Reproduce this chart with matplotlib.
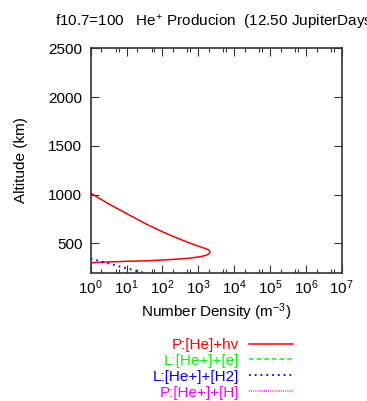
import matplotlib
matplotlib.use("Agg")
import matplotlib.pyplot as plt
from matplotlib.ticker import LogLocator, NullFormatter

plt.rcParams['font.family'] = ['Liberation Sans', 'DejaVu Sans']
plt.rcParams['mathtext.fontset'] = 'custom'
plt.rcParams['mathtext.rm'] = 'Liberation Sans'
plt.rcParams['mathtext.it'] = 'Liberation Sans'
plt.rcParams['mathtext.bf'] = 'Liberation Sans'

# ---- data ----
title = "f10.7=100   He$^{+}$ Producion  (12.50 JupiterDays)"
xlabel = "Number Density (m$^{-3}$)"
ylabel = "Altitude (km)"

# P:[He]+hv  (red)
prod_alt = [302, 310, 317, 323, 333, 347, 364, 380, 395, 408, 420, 432, 445, 460, 511, 593, 688, 798, 910, 1015]
prod_den = [1.0, 3.0, 11, 40, 145, 510, 1150, 1700, 2000, 2120, 2100, 1950, 1650, 1250, 510, 145, 40, 11, 3.0, 1.0]

# L:[He+]+[e]  (green) - not visible in range
loss_e_alt = []
loss_e_den = []

# L:[He+]+[H2]  (blue)
loss_h2_alt = [345, 320, 300, 280, 260, 240, 220, 200]
loss_h2_den = [1.0, 1.75, 2.8, 4.4, 7.0, 11.5, 18.5, 29]

# P:[He+]+[H]  (magenta) - not visible in range
prod_h_alt = []
prod_h_den = []

labels = ["P:[He]+hv", "L:[He+]+[e]", "L:[He+]+[H2]", "P:[He+]+[H]"]
xlim = (1, 1e7)
ylim = (200, 2500)
yticks = [500, 1000, 1500, 2000, 2500]

# ---- figure ----
fig = plt.figure(figsize=(3.67, 4.01), dpi=100)
ax = fig.add_axes([90.7/367, 1-272.7/401, (341.7-90.7)/367, (272.7-48.3)/401])

l1, = ax.plot(prod_den, prod_alt, color='#ff0000', lw=1.1, label=labels[0])
l2, = ax.plot(loss_e_den, loss_e_alt, color='#00ff00', lw=1.1, ls=(0, (3, 2)), label=labels[1])
l3, = ax.plot(loss_h2_den, loss_h2_alt, color='#0000ff', lw=1.3, ls=(0, (1, 2.2)), label=labels[2])
l4, = ax.plot(prod_h_den, prod_h_alt, color='#ff00ff', lw=1.1, ls=(0, (0.6, 0.8)), label=labels[3])

ax.set_xscale('log')
ax.set_xlim(*xlim)
ax.set_ylim(*ylim)
ax.set_yticks(yticks)
ax.xaxis.set_major_locator(LogLocator(base=10, numticks=20))
ax.xaxis.set_minor_locator(LogLocator(base=10, subs=[2, 5, 6], numticks=20))
ax.xaxis.set_minor_formatter(NullFormatter())

ax.tick_params(which='both', direction='in', top=True, right=True, labelsize=11, width=0.8, color='#333333')
ax.tick_params(which='major', length=6)
ax.tick_params(which='minor', length=3)
ax.tick_params(axis='y', pad=6)
ax.tick_params(axis='x', pad=4)
for s in ax.spines.values():
    s.set_linewidth(1.2)
    s.set_color('#333333')

ax.set_xlabel(xlabel, fontsize=11, labelpad=3)
ax.set_ylabel(ylabel, fontsize=11, labelpad=15)
fig.text((90.7+341.7)/2/367, 1-22/401, title, ha='center', va='center', fontsize=11)

fig.legend(handles=[l1, l2, l3, l4], loc='upper right', bbox_to_anchor=(293/367, 1-338/401),
           frameon=False, markerfirst=False, labelcolor='linecolor', fontsize=11,
           handlelength=2.9, handletextpad=0.65, labelspacing=0.12, borderpad=0, borderaxespad=0)

fig.savefig("out.png", dpi=100)
